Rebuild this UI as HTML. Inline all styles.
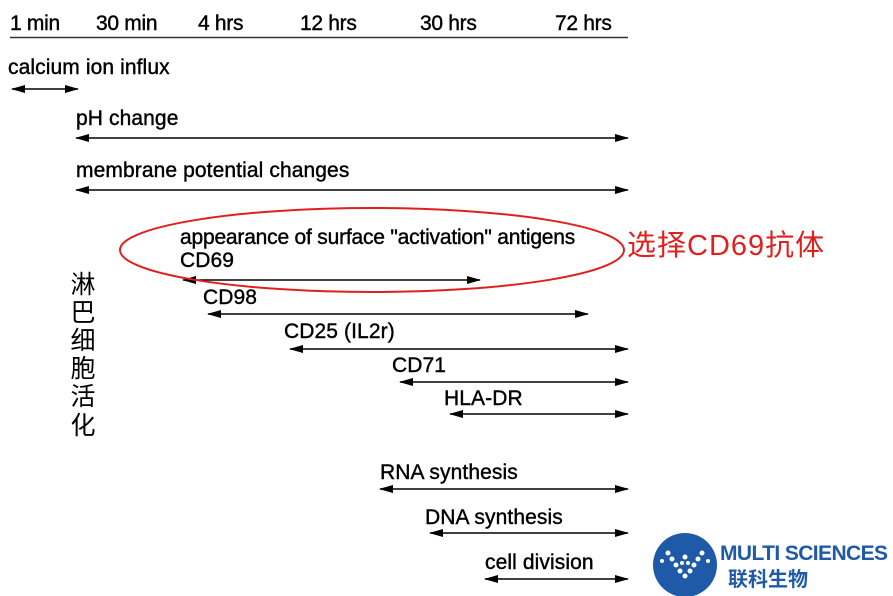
<!DOCTYPE html>
<html><head><meta charset="utf-8"><style>
html,body{margin:0;padding:0;background:#fff;width:893px;height:596px;overflow:hidden}
text{font-family:"Liberation Sans","Noto Sans CJK SC",sans-serif}
</style></head><body>
<svg width="893" height="596" viewBox="0 0 893 596" xmlns="http://www.w3.org/2000/svg">
<defs>
<marker id="a" markerWidth="14" markerHeight="10" refX="13" refY="5" orient="auto-start-reverse" markerUnits="userSpaceOnUse">
<path d="M0,1 L14,5 L0,9 Z" fill="#000"/></marker>
</defs>
<g font-size="21" fill="#000" stroke="#000" stroke-width="0.4" letter-spacing="-0.3">
<text x="10" y="30">1 min</text>
<text x="96" y="30">30 min</text>
<text x="198" y="30">4 hrs</text>
<text x="300" y="30">12 hrs</text>
<text x="420" y="30">30 hrs</text>
<text x="555" y="30">72 hrs</text>
</g>
<line x1="10" y1="37.5" x2="628" y2="37.5" stroke="#333" stroke-width="1.5"/>
<g font-size="21" fill="#000" stroke="#000" stroke-width="0.4" letter-spacing="0.1">
<text x="8" y="74">calcium ion influx</text>
<text x="76" y="125">pH change</text>
<text x="76" y="177">membrane potential changes</text>
<text x="180" y="244" letter-spacing="-0.2">appearance of surface "activation" antigens</text>
<text x="180" y="267">CD69</text>
<text x="203" y="304">CD98</text>
<text x="284" y="338">CD25 (IL2r)</text>
<text x="392" y="372">CD71</text>
<text x="444" y="405">HLA-DR</text>
<text x="380" y="479">RNA synthesis</text>
<text x="425" y="524">DNA synthesis</text>
<text x="485" y="569">cell division</text>
</g>
<g stroke="#000" stroke-width="1.5" marker-start="url(#a)" marker-end="url(#a)">
<line x1="12" y1="89" x2="78" y2="89"/>
<line x1="76" y1="138" x2="628" y2="138"/>
<line x1="76" y1="190" x2="628" y2="190"/>
<line x1="183" y1="280" x2="480" y2="280"/>
<line x1="208" y1="314" x2="588" y2="314"/>
<line x1="290" y1="349" x2="628" y2="349"/>
<line x1="400" y1="382" x2="628" y2="382"/>
<line x1="450" y1="414" x2="628" y2="414"/>
<line x1="380" y1="489" x2="628" y2="489"/>
<line x1="430" y1="533" x2="628" y2="533"/>
<line x1="485" y1="579" x2="628" y2="579"/>
</g>
<ellipse cx="372" cy="250" rx="252" ry="42" fill="none" stroke="#e0201f" stroke-width="2"/>
<text x="627" y="255" font-size="29" fill="#e0201f" letter-spacing="1">选择CD69抗体</text>
<g font-size="25" fill="#000" text-anchor="middle">
<text x="83" y="293">淋</text>
<text x="83" y="321">巴</text>
<text x="83" y="349">细</text>
<text x="83" y="377">胞</text>
<text x="83" y="405">活</text>
<text x="83" y="434">化</text>
</g>
<circle cx="685" cy="565" r="32" fill="#1e5aa8"/>
<g fill="#fff">
<circle cx="668" cy="553" r="2.5"/><circle cx="672" cy="559" r="2.5"/><circle cx="676" cy="565" r="2.5"/><circle cx="680" cy="571" r="2.5"/>
<circle cx="702" cy="553" r="2.5"/><circle cx="698" cy="559" r="2.5"/><circle cx="694" cy="565" r="2.5"/><circle cx="690" cy="571" r="2.5"/>
<circle cx="685" cy="557" r="2.5"/><circle cx="682" cy="563" r="2"/><circle cx="688" cy="563" r="2"/><circle cx="685" cy="576" r="2.5"/>
<circle cx="662" cy="561" r="2"/><circle cx="708" cy="561" r="2"/>
</g>
<text x="720" y="560" font-size="21" font-weight="bold" fill="#1e5aa8" letter-spacing="-0.6">MULTI SCIENCES</text>
<text x="728" y="586" font-size="20" font-weight="bold" fill="#1e5aa8">联科生物</text>
</svg>
</body></html>
